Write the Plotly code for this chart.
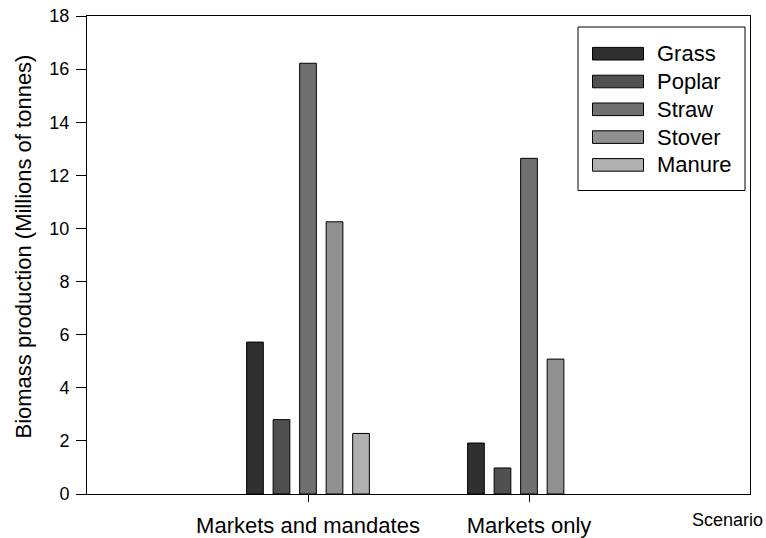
import plotly.graph_objects as go

# Biomass production by scenario (millions of tonnes)
scenarios = ["Markets and mandates", "Markets only"]
group_pos = [1, 2]               # bar-group centres on the numeric x axis
feedstocks = ["Grass", "Poplar", "Straw", "Stover", "Manure"]
grass = [5.72, 1.92]
poplar = [2.80, 0.98]
straw = [16.22, 12.64]
stover = [10.25, 5.08]
manure = [2.28, None]
series = [grass, poplar, straw, stover, manure]
fills = ["#303030", "#505050", "#707070", "#909090", "#b0b0b0"]

font_family = "Liberation Sans, Arial, sans-serif"

# plot area in pixels, used to place the hand-built legend
L, R, T, B = 87, 750, 16, 494
W, H = R - L, B - T


def px_x(px):
    return (px - L) / W


def px_y(py):
    return (B - py) / H


fig = go.Figure()
for name, vals, col in zip(feedstocks, series, fills):
    fig.add_trace(go.Bar(
        x=group_pos, y=vals, name=name, showlegend=False,
        marker=dict(color=col, line=dict(color="black", width=1)),
    ))

# legend: framed box with wide swatches
shapes = [dict(type="rect", xref="paper", yref="paper",
               x0=px_x(578), x1=px_x(745), y0=px_y(27), y1=px_y(190.5),
               line=dict(color="black", width=1), fillcolor="white", layer="above")]
annotations = []
row0, row_step = 53.7, 27.8
for i, (name, col) in enumerate(zip(feedstocks, fills)):
    cy = row0 + i * row_step
    shapes.append(dict(type="rect", xref="paper", yref="paper",
                       x0=px_x(592.5), x1=px_x(643.5),
                       y0=px_y(cy - 6.3), y1=px_y(cy + 6.3),
                       line=dict(color="black", width=1), fillcolor=col, layer="above"))
    annotations.append(dict(text=name, xref="paper", yref="paper",
                            x=px_x(655), y=px_y(cy), xanchor="left", yanchor="middle",
                            showarrow=False, font=dict(size=22, family=font_family)))

annotations.append(dict(
    text="Biomass production (Millions of tonnes)", textangle=-90,
    xref="paper", yref="paper", x=px_x(23), y=px_y(246.5),
    xanchor="center", yanchor="middle", showarrow=False,
    font=dict(size=22, family=font_family),
))
annotations.append(dict(
    text="Scenario", xref="paper", yref="paper", x=px_x(765), y=px_y(520),
    xanchor="right", yanchor="middle", showarrow=False,
    font=dict(size=18, family=font_family),
))

fig.update_layout(
    width=766, height=538,
    margin=dict(l=L, r=766 - R, t=T, b=538 - B, autoexpand=False),
    plot_bgcolor="white", paper_bgcolor="white",
    barmode="group", bargap=0.4, bargroupgap=0.37,
    font=dict(family=font_family, color="black"),
    showlegend=False,
    xaxis=dict(
        range=[0, 3], tickmode="array", tickvals=group_pos, ticktext=scenarios,
        ticks="outside", ticklen=7, tickcolor="black", tickwidth=1,
        ticklabelstandoff=5, automargin=False,
        showline=True, linecolor="black", linewidth=1, mirror=True,
        showgrid=False, zeroline=False,
        tickfont=dict(size=22, family=font_family),
    ),
    yaxis=dict(
        range=[0, 18], tickmode="linear", tick0=0, dtick=2,
        ticks="outside", ticklen=10, tickcolor="black", tickwidth=1,
        ticklabelstandoff=3, automargin=False,
        showline=True, linecolor="black", linewidth=1, mirror=True,
        showgrid=False, zeroline=False,
        tickfont=dict(size=18, family=font_family),
    ),
    shapes=shapes,
    annotations=annotations,
)

fig.write_html("out.html")
